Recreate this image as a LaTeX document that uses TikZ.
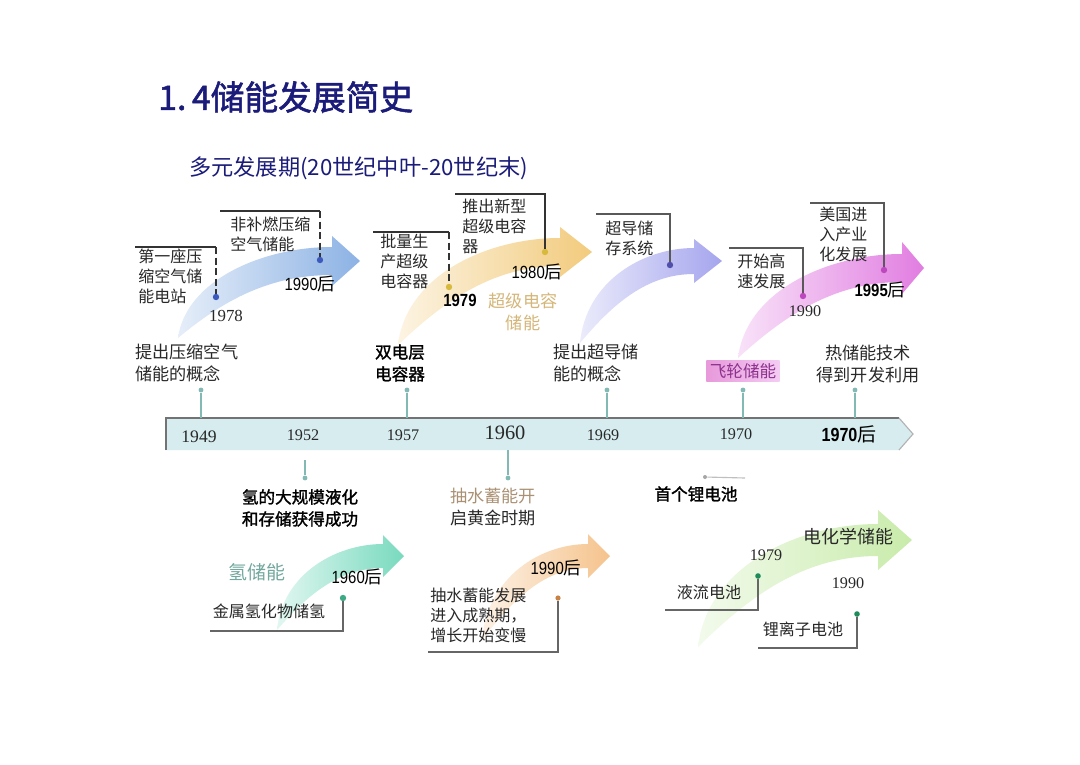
\documentclass[tikz,border=0pt]{standalone}
\usepackage{fontspec}
\setmainfont{Liberation Serif}
\newfontfamily\cjk{Noto Sans CJK SC}
\newfontfamily\cjkb{Noto Sans CJK SC}[FakeBold=1.6]
\newfontfamily\hei{Liberation Sans}[FakeStretch=0.85]
\newfontfamily\heib{Liberation Sans Bold}[FakeStretch=0.85]
\definecolor{navy}{RGB}{27,27,122}
\definecolor{cblue}{RGB}{140,178,228}
\definecolor{cgold}{RGB}{242,203,125}
\definecolor{cpurp}{RGB}{165,165,238}
\definecolor{cpink}{RGB}{225,125,225}
\definecolor{cteal}{RGB}{120,218,190}
\definecolor{corng}{RGB}{245,195,140}
\definecolor{cgrn}{RGB}{200,235,170}
\definecolor{barc}{RGB}{214,236,238}
\definecolor{ink}{RGB}{40,40,40}
\definecolor{goldtxt}{RGB}{212,182,120}
\definecolor{browntxt}{RGB}{170,145,115}
\definecolor{tealtxt}{RGB}{115,168,158}
\definecolor{purptxt}{RGB}{140,50,140}
\definecolor{flybox}{RGB}{236,170,236}
\definecolor{dblue}{RGB}{60,90,190}
\definecolor{dgold}{RGB}{215,185,60}
\definecolor{dpurp}{RGB}{80,80,170}
\definecolor{dpink}{RGB}{190,70,190}
\definecolor{dteal}{RGB}{60,170,130}
\definecolor{dorng}{RGB}{200,130,70}
\definecolor{dgrn}{RGB}{30,140,90}
\definecolor{tdotc}{RGB}{130,185,180}
\newcommand\hou{{\cjk 后}}
% curved arrow: tail x,y ; head base x, centre y ; body half width ; head half width ; tip length ; colour
\newcommand\carrow[8]{%
 \shade[left color=#8!22, right color=#8]
 (#1,#2) .. controls ({#1+0.3*(#3-#1)},{#2-0.5*(#2-#4)}) and ({#3-0.4*(#3-#1)},{#4+#5}) .. (#3,{#4+#5})
 -- (#3,{#4+#6}) -- ({#3+#7},#4) -- (#3,{#4-#6}) -- (#3,{#4-#5})
 .. controls ({#3-0.45*(#3-#1)},{#4-#5}) and ({#1+0.05*(#3-#1)},{#2-0.75*(#2-#4)}) .. cycle;}
\begin{document}
\begin{tikzpicture}[x=0.025cm,y=-0.025cm,
  lbl/.style={font=\cjk\fontsize{11.4}{14.2}\selectfont, text=ink, align=left, inner sep=0pt},
  lblL/.style={font=\cjk\fontsize{12.2}{15.6}\selectfont, text=ink, align=left, inner sep=0pt},
  lblB/.style={font=\cjkb\fontsize{11.8}{15.6}\selectfont, text=black, align=left, inner sep=0pt},
  yr/.style={font=\fontsize{11.5}{13}\selectfont, text=ink, inner sep=0pt},
  yrs/.style={font=\hei\fontsize{12.5}{14}\selectfont, text=black, inner sep=0pt},
  yrb/.style={font=\heib\fontsize{12.5}{14}\selectfont, text=black, inner sep=0pt},
  dot/.style={circle, inner sep=0pt, minimum size=0.16cm},
  tdot/.style={circle, inner sep=0pt, minimum size=0.12cm, fill=tdotc},
  brk/.style={draw=black!80, line width=1.3pt},
  brkd/.style={draw=black!80, line width=1.3pt, dash pattern=on 5pt off 2.5pt},
  brkb/.style={draw=black!60, line width=1.6pt},
  tick/.style={draw=tdotc, line width=0.8pt}]
\useasboundingbox (0,0) rectangle (1080,764);
\fill[white] (0,0) rectangle (1080,764);

% title
\node[anchor=west, inner sep=0pt, text=navy, font=\cjkb\fontsize{24}{28}\selectfont] (title) at (158,97) {1.\,4储能发展简史};
\node[anchor=west, inner sep=0pt, text=navy, font=\cjk\fontsize{15.8}{18}\selectfont] (sub) at (189,168) {多元发展期(20世纪中叶-20世纪末)};

% arrows (top)
\carrow{178}{338}{332}{261}{14}{25}{28}{cblue}
\carrow{398}{345}{560}{252}{14}{25}{32}{cgold}
\carrow{580}{343}{694}{261}{13}{22}{28}{cpurp}
\carrow{738}{358}{902}{268}{14}{26}{22}{cpink}
% arrows (bottom)
\carrow{277}{630}{383}{556}{12}{21}{21}{cteal}
\carrow{482}{640}{588}{556}{12}{22}{22}{corng}
\carrow{698}{647}{878}{540}{16}{30}{34}{cgrn}

% timeline bar
\fill[barc] (166,418) -- (899,418) -- (913,434) -- (899,450) -- (166,450) -- cycle;
\draw[black!55, line width=1.2pt] (166,450) -- (166,418) -- (899,418);
\draw[black!30, line width=0.8pt] (899,418) -- (913,434) -- (899,450);

\node[yr, font=\fontsize{12.5}{14}\selectfont] (y1949) at (199,437) {1949};
\node[yr] (y1952) at (303,435) {1952};
\node[yr] (y1957) at (403,435) {1957};
\node[yr, font=\fontsize{14.5}{16}\selectfont] (y1960) at (505,433) {1960};
\node[yr] (y1969) at (603,435) {1969};
\node[yr] (y1970) at (736,434) {1970};
\node[yrb, font=\heib\fontsize{13.5}{15}\selectfont] (y1970h) at (849,434) {1970\hou};

% ticks above the bar
\foreach \i/\x in {1/201,2/407,3/607,4/743,5/855}{
  \node[tdot] (tu\i) at (\x,390) {};
  \coordinate (tb\i) at (\x,418);
  \draw[tick] (tu\i) -- (tb\i);
}
% ticks below the bar
\node[tdot] (td1) at (305,478) {};
\coordinate (tdb1) at (305,460);
\draw[tick] (tdb1) -- (td1);
\node[tdot] (td2) at (508,478) {};
\coordinate (tdb2) at (508,450);
\draw[tick] (tdb2) -- (td2);
\node[tdot, fill=black!35, minimum size=0.1cm] (td3) at (705,477) {};
\coordinate (tdb3) at (745,478);
\draw[black!25, line width=0.8pt] (td3) -- (tdb3);

% ---- compressed air (blue)
\node[dot, fill=dblue] (d1a) at (216,297) {};
\node[dot, fill=dblue] (d1b) at (320,260) {};
\node[lbl, anchor=north west] (n1a) at (138,249) {第一座压\\缩空气储\\能电站};
\coordinate (c1a) at (135,247); \coordinate (c1a2) at (d1a |- c1a);
\draw[brk] (c1a) -- (c1a2); \draw[brkd] (c1a2) -- (d1a);
\node[lbl, anchor=north west] (n1b) at (230,217) {非补燃压缩\\空气储能};
\coordinate (c1b) at (220,211); \coordinate (c1b2) at (d1b |- c1b);
\draw[brk] (c1b) -- (c1b2); \draw[brkd] (c1b2) -- (d1b);
\node[yr, font=\fontsize{12}{14}\selectfont] (y1978) at (226,316) {1978};
\node[yrs] (y1990a) at (310,284) {1990\hou};
\node[lblL, anchor=north west] (n1c) at (135,344) {提出压缩空气\\储能的概念};

% ---- supercapacitor (gold)
\node[dot, fill=dgold] (d2a) at (449,287) {};
\node[dot, fill=dgold] (d2b) at (545,252) {};
\node[lbl, anchor=north west] (n2a) at (380,234) {批量生\\产超级\\电容器};
\coordinate (c2a) at (373,232); \coordinate (c2a2) at (d2a |- c2a);
\draw[brk] (c2a) -- (c2a2); \draw[brkd] (c2a2) -- (d2a);
\node[lbl, anchor=north west] (n2b) at (462,199) {推出新型\\超级电容\\器};
\coordinate (c2b) at (455,194); \coordinate (c2b2) at (d2b |- c2b);
\draw[brk] (c2b) -- (c2b2) -- (d2b);
\node[yrb] (y1979a) at (460,300) {1979};
\node[yrs] (y1980) at (537,272) {1980\hou};
\node[lblL, text=goldtxt, align=center] (n2c) at (523,312) {超级电容\\储能};
\node[lblB, align=center] (n2d) at (400,363) {双电层\\电容器};

% ---- superconducting (purple)
\node[dot, fill=dpurp] (d3a) at (670,265) {};
\node[lbl, anchor=north west] (n3a) at (605,221) {超导储\\存系统};
\coordinate (c3a) at (596,214); \coordinate (c3a2) at (d3a |- c3a);
\draw[brk, draw=black!65] (c3a) -- (c3a2) -- (d3a);
\node[lblL, anchor=north west] (n3b) at (553,344) {提出超导储\\能的概念};

% ---- flywheel (pink)
\node[dot, fill=dpink] (d4a) at (803,296) {};
\node[dot, fill=dpink] (d4b) at (884,270) {};
\node[lbl, anchor=north west] (n4a) at (737,254) {开始高\\速发展};
\coordinate (c4a) at (729,248); \coordinate (c4a2) at (d4a |- c4a);
\draw[brk, draw=black!65] (c4a) -- (c4a2) -- (d4a);
\node[lbl, anchor=north west] (n4b) at (819,207) {美国进\\入产业\\化发展};
\coordinate (c4b) at (810,203); \coordinate (c4b2) at (d4b |- c4b);
\draw[brk, draw=black!65] (c4b) -- (c4b2) -- (d4b);
\node[yr] (y1990b) at (805,311) {1990};
\node[yrb] (y1995) at (880,290) {1995\hou};
\node[font=\cjk\fontsize{11.8}{14}\selectfont, text=purptxt, left color=flybox!90!purple, right color=flybox!60, inner xsep=2.5pt, inner ysep=2pt] (n4c) at (743,371) {飞轮储能};
\node[lblL, align=center] (n4d) at (868,364) {热储能技术\\得到开发利用};

% ---- hydrogen (teal)
\node[lblB] (n5a) at (300,508) {氢的大规模液化\\和存储获得成功};
\node[dot, fill=dteal] (d5a) at (343,598) {};
\node[font=\cjk\fontsize{13.5}{16}\selectfont, text=tealtxt, inner sep=0pt] (n5b) at (257,572) {氢储能};
\node[yrs] (y1960h) at (357,577) {1960\hou};
\node[lbl] (n5c) at (269,611) {金属氢化物储氢};
\coordinate (c5a) at (210,631); \coordinate (c5a2) at (d5a |- c5a);
\draw[brkb] (c5a) -- (c5a2) -- (d5a);

% ---- pumped hydro (orange)
\node[lblL, anchor=north west] (n6a) at (450,488) {\textcolor{browntxt}{抽水蓄能开}\\启黄金时期};
\node[dot, fill=dorng, minimum size=0.13cm] (d6a) at (558,598) {};
\node[yrs] (y1990c) at (556,568) {1990\hou};
\node[lbl, anchor=north west] (n6b) at (430,588) {抽水蓄能发展\\进入成熟期，\\增长开始变慢};
\coordinate (c6a) at (428,652); \coordinate (c6a2) at (d6a |- c6a);
\draw[brkb] (c6a) -- (c6a2) -- (d6a);

% ---- electrochemical (green)
\node[lblB] (n7a) at (696,494) {首个锂电池};
\node[font=\cjk\fontsize{12.8}{15}\selectfont, text=ink, inner sep=0pt] (n7b) at (848,537) {电化学储能};
\node[dot, fill=dgrn, minimum size=0.14cm] (d7a) at (758,576) {};
\node[dot, fill=dgrn, minimum size=0.14cm] (d7b) at (857,614) {};
\node[yr] (y1979b) at (766,555) {1979};
\node[yr] (y1990d) at (848,583) {1990};
\node[lbl] (n7c) at (709,592) {液流电池};
\coordinate (c7a) at (665,610); \coordinate (c7a2) at (d7a |- c7a);
\draw[brkb] (c7a) -- (c7a2) -- (d7a);
\node[lbl] (n7d) at (803,629) {锂离子电池};
\coordinate (c7b) at (758,648); \coordinate (c7b2) at (d7b |- c7b);
\draw[brkb] (c7b) -- (c7b2) -- (d7b);
\end{tikzpicture}
\end{document}
